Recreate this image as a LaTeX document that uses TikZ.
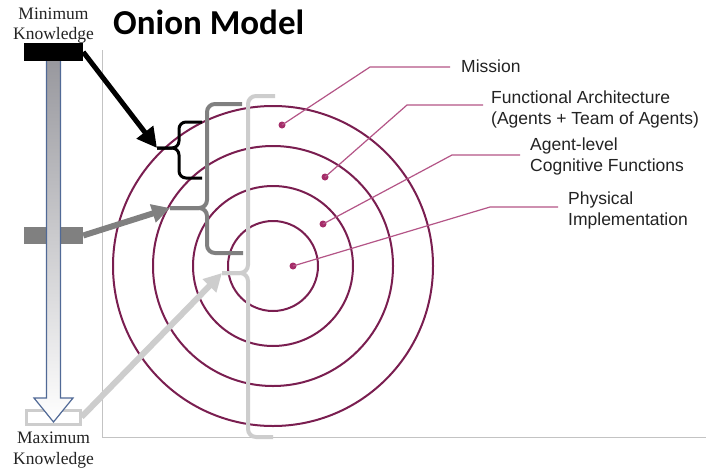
\documentclass[tikz,border=0pt]{standalone}
\usepackage{fontspec}
\setmainfont{Liberation Serif}
\newfontfamily\labelfont{Liberation Sans}
\newfontfamily\titlefont{Carlito}
\usetikzlibrary{arrows.meta}
\definecolor{ringc}{RGB}{122,30,80}
\definecolor{pinkline}{RGB}{180,85,135}
\definecolor{dotc}{RGB}{165,45,105}
\definecolor{axisc}{RGB}{195,195,195}
\definecolor{midgray}{RGB}{128,128,128}
\definecolor{lightg}{RGB}{205,205,205}
\definecolor{shaftline}{RGB}{80,105,150}
\definecolor{shafttop}{RGB}{150,150,156}
\definecolor{txt}{RGB}{35,35,35}
\begin{document}
\begin{tikzpicture}[x=1pt,y=-1pt,
  ringline/.style={draw=ringc,line width=2pt},
  lbl/.style={font=\labelfont\fontsize{17.5}{21}\selectfont,text=txt,anchor=base west,inner sep=0pt},
  sidelbl/.style={font=\fontsize{17.5}{21}\selectfont,text=txt,anchor=base,inner sep=0pt},
  leader/.style={draw=pinkline,line width=1.2pt},
  dotn/.style={circle,fill=dotc,inner sep=0pt,minimum size=7pt},
  barbox/.style={inner sep=0pt,minimum width=59pt,minimum height=18pt},
  bracebk/.style={draw=black,line width=3pt,rounded corners=7pt},
  bracegr/.style={draw=midgray,line width=4pt,rounded corners=8pt},
  bracelt/.style={draw=lightg,line width=4pt,rounded corners=8pt},
]
\useasboundingbox (0,0) rectangle (706,471);
\fill[white] (0,0) rectangle (706,471);

% axes
\coordinate (axtop) at (102,50);
\coordinate (axcorner) at (102,437);
\coordinate (axright) at (706,437);
\draw[axisc,line width=0.8pt] (axtop) -- (axcorner) -- (axright);

% title
\node[font=\titlefont\bfseries\fontsize{35}{40}\selectfont,anchor=base west,inner sep=0pt] (title) at (113,34) {Onion Model};

% rings
\foreach \r in {45,80,120,160} \draw[ringline] (273,266) circle[radius=\r pt];

% leaders and labels
\node[dotn] (dm) at (282,125) {};
\node[dotn] (df) at (325,177) {};
\node[dotn] (da) at (323,224) {};
\node[dotn] (dp) at (293,266) {};
\coordinate (km) at (370,67);  \coordinate (em) at (450,67);
\coordinate (kf) at (407,105); \coordinate (ef) at (483,105);
\coordinate (ka) at (452,155); \coordinate (ea) at (520,155);
\coordinate (kp) at (490,207); \coordinate (ep) at (558,207);
\draw[leader] (dm.center) -- (km) -- (em);
\draw[leader] (df.center) -- (kf) -- (ef);
\draw[leader] (da.center) -- (ka) -- (ea);
\draw[leader] (dp.center) -- (kp) -- (ep);
\node[lbl] (lm) at (461,72) {Mission};
\node[lbl] (lf1) at (491,103) {Functional Architecture};
\node[lbl] (lf2) at (491,124) {(Agents + Team of Agents)};
\node[lbl] (la1) at (530,150) {Agent-level};
\node[lbl] (la2) at (530,171) {Cognitive Functions};
\node[lbl] (lp1) at (568,204) {Physical};
\node[lbl] (lp2) at (568,225) {Implementation};

% braces
\coordinate (btip) at (157,148);
\coordinate (gtip) at (170,208);
\coordinate (ltip) at (222,273);
\draw[bracelt] (275,96) -- (248,96) -- (248,273) -- (ltip);
\draw[bracelt] (273,437) -- (248,437) -- (248,273) -- (ltip);
\draw[bracegr] (242,104) -- (207,104) -- (207,208) -- (gtip);
\draw[bracegr] (243,253) -- (207,253) -- (207,208) -- (gtip);
\draw[bracebk] (202,122) -- (179,122) -- (179,148) -- (btip);
\draw[bracebk] (202,178) -- (179,178) -- (179,148) -- (btip);

% left scale
\node[barbox,fill=midgray,minimum height=17pt] (graybar) at (53.5,235.5) {};
\node[inner sep=0pt,draw=lightg,fill=white,line width=3pt,minimum width=54pt,minimum height=14pt] (lightbar) at (53,417) {};
\shadedraw[top color=shafttop,bottom color=white,draw=shaftline,line width=1.2pt]
  (46.5,52) -- (60.5,52) -- (60.5,398) -- (73,398) -- (53.5,422) -- (34,398) -- (46.5,398) -- cycle;
\node[barbox,fill=black] (minbar) at (53.5,52) {};

\node[sidelbl] (min1) at (53.5,19) {Minimum};
\node[sidelbl] (min2) at (53.5,39) {Knowledge};
\node[sidelbl] (max1) at (53.5,443) {Maximum};
\node[sidelbl] (max2) at (53.5,464) {Knowledge};

% connectors
\draw[line width=5pt,-{Triangle[length=20pt,width=20pt]}] (minbar.east) -- (btip);
\draw[midgray,line width=6pt,-{Triangle[length=18pt,width=18pt]}] (graybar.east) -- (gtip);
\draw[lightg,line width=6pt,-{Triangle[length=18pt,width=18pt]}] (lightbar.east) -- (ltip);
\end{tikzpicture}
\end{document}
